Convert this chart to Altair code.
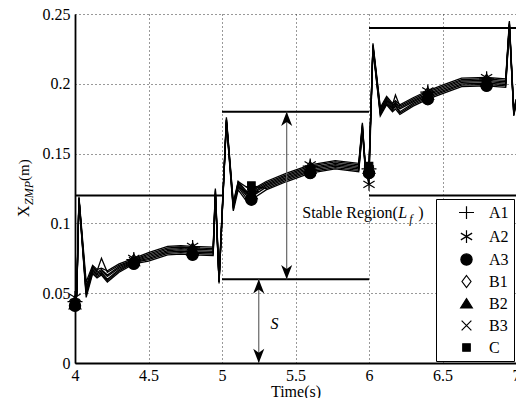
import altair as alt
import pandas as pd

# ---------------- data ----------------
time_s = [4.000, 4.012, 4.027, 4.076, 4.120, 4.150, 4.180, 4.220, 4.300, 4.400,
          4.500, 4.630, 4.720, 4.800, 4.940, 4.955, 4.980, 5.030, 5.077, 5.110,
          5.166, 5.200, 5.300, 5.440, 5.600, 5.770, 5.930, 5.955, 5.975, 6.000,
          6.027, 6.077, 6.120, 6.160, 6.180, 6.210, 6.300, 6.400, 6.500, 6.630,
          6.800, 6.930, 6.955, 6.985, 7.000]

A1 = [0.044, 0.051, 0.118, 0.055, 0.069, 0.066, 0.075, 0.065, 0.070, 0.074,
      0.078, 0.0825, 0.083, 0.0825, 0.082, 0.124, 0.060, 0.175, 0.114, 0.129,
      0.122, 0.123, 0.129, 0.135, 0.141, 0.144, 0.142, 0.171, 0.142, 0.139,
      0.228, 0.182, 0.190, 0.185, 0.192, 0.184, 0.189, 0.194, 0.198, 0.203,
      0.2035, 0.2025, 0.244, 0.180, 0.188]
A2 = [0.047, 0.053, 0.119, 0.058, 0.070, 0.067, 0.068, 0.066, 0.071, 0.075,
      0.079, 0.0835, 0.084, 0.0835, 0.083, 0.125, 0.061, 0.176, 0.115, 0.130,
      0.123, 0.124, 0.130, 0.136, 0.142, 0.145, 0.143, 0.172, 0.138, 0.128,
      0.229, 0.183, 0.191, 0.186, 0.188, 0.185, 0.190, 0.195, 0.199, 0.204,
      0.2045, 0.2035, 0.245, 0.181, 0.189]
A3 = [0.041, 0.048, 0.117, 0.047, 0.064, 0.061, 0.063, 0.058, 0.065, 0.071,
      0.073, 0.0775, 0.078, 0.0775, 0.077, 0.120, 0.057, 0.172, 0.109, 0.124,
      0.116, 0.117, 0.124, 0.130, 0.136, 0.139, 0.137, 0.166, 0.138, 0.136,
      0.225, 0.177, 0.185, 0.180, 0.182, 0.178, 0.184, 0.189, 0.193, 0.198,
      0.1985, 0.1975, 0.241, 0.177, 0.185]
B1 = [0.043, 0.050, 0.118, 0.053, 0.068, 0.065, 0.067, 0.063, 0.069, 0.0735,
      0.077, 0.0815, 0.082, 0.0815, 0.081, 0.123, 0.059, 0.174, 0.113, 0.128,
      0.121, 0.122, 0.128, 0.134, 0.140, 0.143, 0.141, 0.170, 0.141, 0.140,
      0.227, 0.181, 0.189, 0.184, 0.187, 0.183, 0.188, 0.193, 0.197, 0.202,
      0.2025, 0.2015, 0.243, 0.179, 0.187]
B2 = [0.042, 0.049, 0.118, 0.051, 0.067, 0.064, 0.066, 0.062, 0.068, 0.073,
      0.076, 0.0805, 0.081, 0.0805, 0.080, 0.122, 0.058, 0.174, 0.112, 0.127,
      0.120, 0.121, 0.127, 0.133, 0.139, 0.142, 0.140, 0.169, 0.140, 0.139,
      0.227, 0.180, 0.188, 0.183, 0.186, 0.182, 0.187, 0.192, 0.196, 0.201,
      0.2015, 0.2005, 0.243, 0.179, 0.187]
B3 = [0.042, 0.049, 0.117, 0.050, 0.066, 0.063, 0.065, 0.060, 0.067, 0.0725,
      0.075, 0.0795, 0.080, 0.0795, 0.079, 0.121, 0.058, 0.173, 0.111, 0.126,
      0.118, 0.119, 0.126, 0.132, 0.138, 0.141, 0.139, 0.168, 0.139, 0.138,
      0.226, 0.179, 0.187, 0.182, 0.185, 0.180, 0.186, 0.191, 0.195, 0.200,
      0.2005, 0.1995, 0.242, 0.178, 0.186]
C = [0.043, 0.049, 0.117, 0.049, 0.065, 0.062, 0.064, 0.059, 0.066, 0.072,
     0.074, 0.0785, 0.079, 0.0785, 0.078, 0.121, 0.058, 0.173, 0.110, 0.130,
     0.126, 0.127, 0.125, 0.131, 0.137, 0.140, 0.138, 0.167, 0.141, 0.141,
     0.226, 0.178, 0.186, 0.181, 0.184, 0.179, 0.185, 0.190, 0.194, 0.199,
     0.1995, 0.1985, 0.242, 0.178, 0.186]

series_names = ["A1", "A2", "A3", "B1", "B2", "B3", "C"]
series_values = [A1, A2, A3, B1, B2, B3, C]
marker_times = [4.0, 4.4, 4.8, 5.2, 5.6, 6.0, 6.4, 6.8]

region_start = [4.0, 5.0, 5.0, 6.0, 6.0]
region_end = [5.0, 6.0, 6.0, 7.0, 7.0]
region_level = [0.12, 0.18, 0.06, 0.24, 0.12]

arrow_x = [5.44, 5.25]
arrow_low = [0.06, 0.0]
arrow_high = [0.18, 0.06]

x_ticks = [4, 4.5, 5, 5.5, 6, 6.5, 7]
y_ticks = [0, 0.05, 0.1, 0.15, 0.2, 0.25]

stable_label = ["Stable Region(", "L", "f", ")"]
stable_anchor = [5.546, 0.104]
s_label = "S"
s_anchor = [5.357, 0.028]

# ---------------- tables ----------------
rows = []
for name, vals in zip(series_names, series_values):
    for t, v in zip(time_s, vals):
        rows.append({"t": t, "v": v, "series": name,
                     "marker": any(abs(t - m) < 1e-9 for m in marker_times)})
df = pd.DataFrame(rows)

df_regions = pd.DataFrame({"x1": region_start, "x2": region_end, "y": region_level})
df_arrows = pd.DataFrame({"x": arrow_x, "lo": arrow_low, "hi": arrow_high})

SERIF = "Liberation Serif, Times New Roman, DejaVu Serif, serif"

xs = alt.Scale(domain=[4, 7], nice=False, zero=False)
ys = alt.Scale(domain=[0, 0.25], nice=False, zero=False)

common_axis = dict(grid=True, ticks=False, tickSize=0, domainColor="black",
                   domainWidth=1.8, gridColor="#333333", gridDash=[1, 3],
                   gridWidth=1, labelFont=SERIF, labelFontSize=16,
                   labelColor="black", titleFont=SERIF, titleFontSize=16,
                   titleFontWeight="normal", titleColor="black",
                   labelFlush=False, format="~g")
x_axis = alt.Axis(values=x_ticks, title="Time(s)", labelPadding=4,
                  titlePadding=0, **common_axis)
y_axis = alt.Axis(values=y_ticks, title=None, labelPadding=5, **common_axis)

# shapes (unit paths, scaled by sqrt(size)/2)
shape_paths = [
    "M-1,0L1,0M0,-0.85L0,0.85",
    "M0,-0.85L0,0.85M-0.75,-0.45L0.75,0.45M-0.75,0.45L0.75,-0.45",
    "M0.75,0A0.75,0.75,0,1,1,-0.75,0A0.75,0.75,0,1,1,0.75,0Z",
    "M0,-0.8L0.6,0L0,0.8L-0.6,0Z",
    "M0,-0.65L0.78,0.6L-0.78,0.6Z",
    "M-0.65,-0.65L0.65,0.65M-0.65,0.65L0.65,-0.65",
    "M-0.5,-0.5L0.5,-0.5L0.5,0.5L-0.5,0.5Z",
]
fill_range = ["transparent", "transparent", "black", "transparent", "black",
              "transparent", "black"]
stroke_range = ["black"] * 7

def make_legend():
    return alt.Legend(title=None, orient="bottom-right", offset=2, padding=5,
                      symbolOffset=17, labelOffset=14, rowPadding=5,
                      symbolSize=225, symbolStrokeWidth=1.2,
                      labelFont=SERIF, labelFontSize=16,
                      labelColor="black", strokeColor="black", fillColor="white")

X = lambda f: alt.X(f, scale=xs, axis=x_axis)
Y = lambda f: alt.Y(f, scale=ys, axis=y_axis)

regions = alt.Chart(df_regions).mark_rule(color="black", strokeWidth=2).encode(
    x=X("x1:Q"), x2="x2:Q", y=Y("y:Q"))

shafts = alt.Chart(df_arrows).mark_rule(color="#666666", strokeWidth=1.2).encode(
    x=X("x:Q"), y=Y("lo:Q"), y2="hi:Q")

UP = "M0,0L0.7,1.8L0,1.3L-0.7,1.8Z"
DOWN = "M0,0L0.7,-1.8L0,-1.3L-0.7,-1.8Z"
heads_up = alt.Chart(df_arrows).mark_point(shape=UP, size=250, filled=True,
                                           color="black", opacity=1).encode(
    x=X("x:Q"), y=Y("hi:Q"))
heads_down = alt.Chart(df_arrows).mark_point(shape=DOWN, size=250, filled=True,
                                             color="black", opacity=1).encode(
    x=X("x:Q"), y=Y("lo:Q"))

lines = alt.Chart(df).mark_line(color="black", strokeWidth=1.3).encode(
    x=X("t:Q"), y=Y("v:Q"), detail="series:N")

markers = alt.Chart(df).transform_filter("datum.marker").mark_point(
    size=225, strokeWidth=1.2, opacity=1).encode(
    x=X("t:Q"), y=Y("v:Q"),
    shape=alt.Shape("series:N", scale=alt.Scale(domain=series_names, range=shape_paths),
                    legend=make_legend()),
    fill=alt.Fill("series:N", scale=alt.Scale(domain=series_names, range=fill_range),
                  legend=make_legend()),
    stroke=alt.Stroke("series:N", scale=alt.Scale(domain=series_names, range=stroke_range),
                      legend=make_legend()))

ann = pd.DataFrame({"x": [stable_anchor[0]], "y": [stable_anchor[1]]})

def ann_text(txt, dx, dy, size, italic):
    return alt.Chart(ann).mark_text(
        text=txt, align="left", baseline="alphabetic", dx=dx, dy=dy,
        font=SERIF, fontSize=size, fontStyle="italic" if italic else "normal",
        color="black").encode(x=X("x:Q"), y=Y("y:Q"))

stable_texts = [
    ann_text(stable_label[0], 0, 0, 16, False),
    ann_text(stable_label[1], 96, 0, 16, True),
    ann_text(stable_label[2], 107, 5, 12, True),
    ann_text(stable_label[3], 116, 0, 16, False),
]

s_df = pd.DataFrame({"x": [s_anchor[0]], "y": [s_anchor[1]], "s": [s_label]})
s_text = alt.Chart(s_df).mark_text(font=SERIF, fontSize=16, fontStyle="italic",
                                   align="center", baseline="middle",
                                   color="black").encode(
    x=X("x:Q"), y=Y("y:Q"), text="s:N")

def ytitle(txt, px, py, size, italic):
    return alt.Chart(pd.DataFrame({"s": [txt]})).mark_text(
        angle=270, align="left", baseline="alphabetic", font=SERIF,
        fontSize=size, fontStyle="italic" if italic else "normal",
        color="black").encode(text="s:N", x=alt.value(px), y=alt.value(py))

ytitles = [ytitle("X", -46, 203, 16, False),
           ytitle("ZMP", -42, 191, 12, True),
           ytitle("(m)", -46, 167, 15, False)]

chart = alt.layer(lines, regions, shafts, heads_up, heads_down, markers,
                  *stable_texts, s_text, *ytitles).properties(
    width=441, height=349,
    autosize=alt.AutoSizeParams(type="none"),
    padding={"left": 67, "top": 6, "right": 0, "bottom": 35},
).configure_view(stroke="transparent")

chart.save("out.html", embed_options={"renderer": "svg", "actions": False})
